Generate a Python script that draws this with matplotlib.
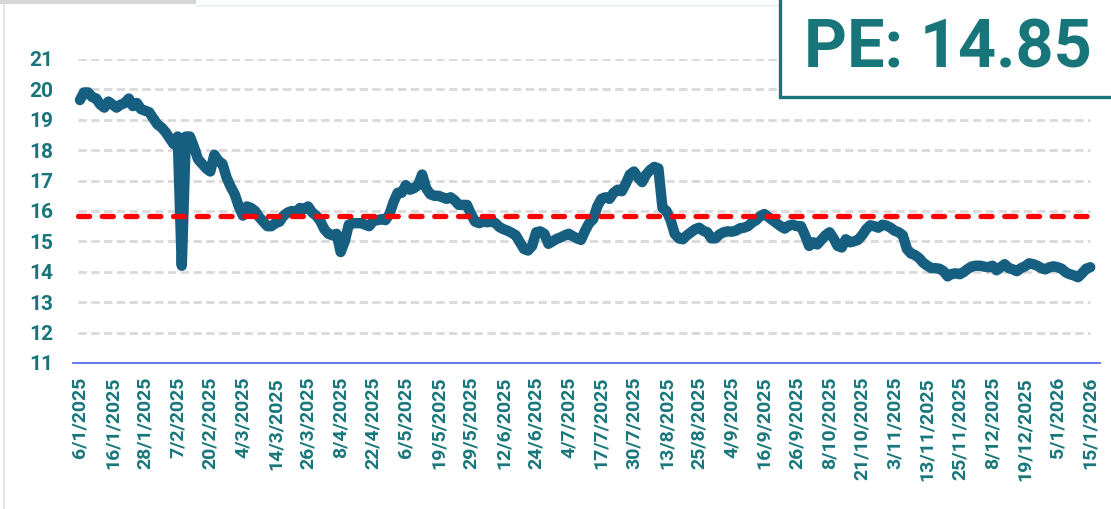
import matplotlib.pyplot as plt
from matplotlib.patches import Rectangle
from matplotlib.lines import Line2D

# tick labels, one every 8 sessions
date_labels = ['6/1/2025', '16/1/2025', '28/1/2025', '7/2/2025', '20/2/2025', '4/3/2025',
               '14/3/2025', '26/3/2025', '8/4/2025', '22/4/2025', '6/5/2025', '19/5/2025',
               '29/5/2025', '12/6/2025', '24/6/2025', '4/7/2025', '17/7/2025', '30/7/2025',
               '13/8/2025', '25/8/2025', '4/9/2025', '16/9/2025', '26/9/2025', '8/10/2025',
               '21/10/2025', '3/11/2025', '13/11/2025', '25/11/2025', '8/12/2025',
               '19/12/2025', '5/1/2026', '15/1/2026']

# daily PE values
pe_values = [
    19.65, 19.9, 19.9, 19.75, 19.7, 19.5, 19.4, 19.6, 19.5, 19.4,
    19.5, 19.55, 19.7, 19.45, 19.55, 19.35, 19.3, 19.25, 19.05, 18.85,
    18.75, 18.6, 18.4, 18.2, 18.45, 14.2, 18.45, 18.45, 18.1, 17.7,
    17.55, 17.4, 17.3, 17.85, 17.65, 17.55, 17.1, 16.8, 16.55, 16.15,
    15.85, 16.15, 16.1, 16.0, 15.8, 15.65, 15.5, 15.5, 15.6, 15.65,
    15.85, 15.95, 16.0, 15.95, 16.1, 16.05, 16.15, 15.95, 15.85, 15.67,
    15.4, 15.25, 15.2, 15.25, 14.65, 15.0, 15.55, 15.6, 15.6, 15.6,
    15.55, 15.5, 15.67, 15.7, 15.73, 15.7, 15.9, 16.3, 16.6, 16.6,
    16.85, 16.7, 16.75, 16.85, 17.2, 16.75, 16.55, 16.5, 16.5, 16.45,
    16.4, 16.45, 16.35, 16.2, 16.2, 16.2, 15.9, 15.65, 15.6, 15.65,
    15.63, 15.67, 15.6, 15.47, 15.4, 15.35, 15.28, 15.2, 14.97, 14.75,
    14.7, 14.85, 15.3, 15.33, 15.25, 14.92, 15.0, 15.08, 15.13, 15.2,
    15.25, 15.17, 15.1, 15.05, 15.35, 15.6, 15.73, 16.15, 16.4, 16.45,
    16.4, 16.6, 16.7, 16.65, 16.9, 17.2, 17.3, 17.1, 16.95, 17.2,
    17.35, 17.45, 17.4, 16.1, 16.0, 15.7, 15.25, 15.1, 15.07, 15.2,
    15.3, 15.4, 15.45, 15.35, 15.3, 15.1, 15.1, 15.23, 15.3, 15.33,
    15.32, 15.35, 15.43, 15.45, 15.5, 15.62, 15.7, 15.83, 15.9, 15.8,
    15.7, 15.6, 15.5, 15.42, 15.52, 15.55, 15.5, 15.5, 15.2, 14.85,
    14.97, 14.9, 15.05, 15.2, 15.3, 15.1, 14.85, 14.8, 15.07, 14.97,
    15.0, 15.05, 15.2, 15.4, 15.53, 15.5, 15.45, 15.55, 15.52, 15.45,
    15.35, 15.3, 15.2, 14.75, 14.6, 14.55, 14.45, 14.3, 14.2, 14.12,
    14.12, 14.1, 14.02, 13.85, 13.93, 13.95, 13.92, 14.0, 14.1, 14.18,
    14.2, 14.2, 14.17, 14.15, 14.2, 14.05, 14.15, 14.25, 14.12, 14.08,
    14.02, 14.12, 14.18, 14.28, 14.25, 14.2, 14.12, 14.08, 14.15, 14.18,
    14.15, 14.1, 13.98, 13.92, 13.88, 13.82, 13.95, 14.1, 14.15,
]

pe_average = 15.85
pe_text = 'PE: 14.85'
y_ticks = list(range(11, 22))
label_step = 8

teal = '#18767a'
line_blue = '#175f80'

plt.rcParams['font.family'] = ['Roboto', 'DejaVu Sans']

fig = plt.figure(figsize=(11.11, 5.09), dpi=100)
ax = fig.add_axes([73 / 1111, 1 - 363 / 509, 1027 / 1111, 304 / 509])

n = len(pe_values)
x = list(range(n))
last = n - 1

# dashed grey grid
ax.hlines(y_ticks[1:], -0.5, last, colors='#d9d9d9', linewidth=2,
          linestyles=(0, (3, 1.6)), zorder=1)

ax.plot(x, pe_values, color=line_blue, linewidth=7.5,
        solid_joinstyle='round', solid_capstyle='round', zorder=3)

# average line
ax.hlines(pe_average, -0.5, last, colors='#ff0000', linewidth=3.8,
          linestyles=(0, (2.1, 2.4)), capstyle='round', zorder=4)

ax.set_xlim(-1.7, 250.4)
ax.set_ylim(11, 21)
ax.set_yticks(y_ticks)
ax.set_xticks(x[::label_step])
ax.set_xticklabels(date_labels, rotation=90)

for side in ['top', 'right', 'left']:
    ax.spines[side].set_visible(False)
ax.spines['bottom'].set_color('#5470e6')
ax.spines['bottom'].set_linewidth(1.3)

ax.tick_params(axis='y', length=0, pad=14, labelsize=15, labelcolor=teal)
ax.tick_params(axis='x', length=0, pad=10, labelsize=14, labelcolor=teal)
for lbl in ax.get_xticklabels() + ax.get_yticklabels():
    lbl.set_fontweight('bold')

# PE box in the top right corner
fig.add_artist(Rectangle((780 / 1111, 1 - 97 / 509), 400 / 1111, 120 / 509,
                         transform=fig.transFigure, facecolor='white',
                         edgecolor=teal, linewidth=2.4, zorder=5))
fig.text(948 / 1111, 1 - 68 / 509, pe_text, color=teal, fontsize=48,
         fontweight='bold', ha='center', va='baseline', zorder=6)

# screenshot frame bits
fig.add_artist(Rectangle((0, 1 - 4 / 509), 196 / 1111, 4 / 509,
                         transform=fig.transFigure, facecolor='#d6d6d6',
                         edgecolor='none'))
fig.add_artist(Line2D([196 / 1111, 1], [1 - 4.5 / 509, 1 - 4.5 / 509],
                      transform=fig.transFigure, color='#e3eef0', linewidth=1))
fig.add_artist(Line2D([4 / 1111, 4 / 1111], [0, 1 - 4 / 509],
                      transform=fig.transFigure, color='#e0e0e0', linewidth=1.2))

fig.savefig('out.png', dpi=100)
